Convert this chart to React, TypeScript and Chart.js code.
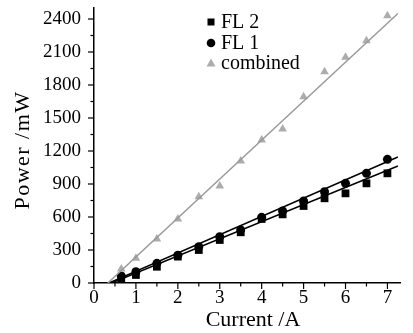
import React, { useEffect, useRef } from "react";
import { Chart, registerables } from "chart.js";

Chart.register(...registerables);

const currents = [0.65, 1, 1.5, 2, 2.5, 3, 3.5, 4, 4.5, 5, 5.5, 6, 6.5, 7];
const fl2Power = [43, 73, 148, 240, 300, 391, 461, 582, 624, 700, 770, 815, 906, 997];
const fl1Power = [64, 103, 179, 252, 330, 421, 482, 597, 655, 745, 830, 906, 997, 1124];
const combinedPower = [127, 224, 400, 582, 785, 882, 1109, 1300, 1400, 1694, 1921, 2052, 2203, 2430];

const fl2FitX = [0.42, 7.25];
const fl2FitY = [0, 1064];
const fl1FitX = [0.36, 7.25];
const fl1FitY = [0, 1145];
const combFitX = [0.33, 7.25];
const combFitY = [0, 2450];

const xTicks = [0, 1, 2, 3, 4, 5, 6, 7];
const yTicks = [0, 300, 600, 900, 1200, 1500, 1800, 2100, 2400];
const legendLabels = ["FL 2", "FL 1", "combined"];

const FONT = "'Liberation Serif', 'Times New Roman', serif";
const GRAY_PT = "#acacac";
const GRAY_LN = "#9a9a9a";

const pts = (xs: number[], ys: number[]) => xs.map((x, i) => ({ x, y: ys[i] }));

const decoPlugin = {
  id: "deco",
  afterDraw(chart: any) {
    const ctx = chart.ctx;
    const xs = chart.scales.x;
    const ys = chart.scales.y;
    const ca = chart.chartArea;
    ctx.save();
    ctx.strokeStyle = "#000";
    ctx.lineWidth = 1.2;
    for (let v = 0; v <= 7.0001; v += 0.5) {
      const px = xs.getPixelForValue(v);
      const major = Math.abs(v - Math.round(v)) < 1e-6;
      ctx.beginPath();
      ctx.moveTo(px, ca.bottom);
      ctx.lineTo(px, ca.bottom + (major ? 6 : 3.5));
      ctx.stroke();
    }
    for (let v = 0; v <= 2400.001; v += 150) {
      const py = ys.getPixelForValue(v);
      const major = Math.abs(v % 300) < 1e-6;
      ctx.beginPath();
      ctx.moveTo(ca.left, py);
      ctx.lineTo(ca.left - (major ? 6 : 3.5), py);
      ctx.stroke();
    }
    ctx.fillStyle = "#000";
    ctx.font = `22px ${FONT}`;
    ctx.textAlign = "center";
    ctx.textBaseline = "middle";
    ctx.fillText("Current /A", (ca.left + ca.right) / 2 + 6, 320);
    ctx.save();
    ctx.translate(23, 150);
    ctx.rotate(-Math.PI / 2);
    (ctx as any).letterSpacing = "1.5px";
    ctx.fillText("Power /mW", 0, 0);
    ctx.restore();
    const lx = 211;
    const rows = [22, 43, 63];
    ctx.textAlign = "left";
    ctx.font = `20px ${FONT}`;
    ctx.fillStyle = "#000";
    ctx.fillRect(lx - 3.5, rows[0] - 3.5, 7, 7);
    ctx.beginPath();
    ctx.arc(lx, rows[1], 4.3, 0, Math.PI * 2);
    ctx.fill();
    ctx.fillStyle = GRAY_PT;
    ctx.beginPath();
    ctx.moveTo(lx, rows[2] - 4.5);
    ctx.lineTo(lx + 4.5, rows[2] + 3.5);
    ctx.lineTo(lx - 4.5, rows[2] + 3.5);
    ctx.closePath();
    ctx.fill();
    ctx.fillStyle = "#000";
    legendLabels.forEach((t, i) => ctx.fillText(t, lx + 10, rows[i] + 1));
    ctx.restore();
  },
};

export default function App() {
  const ref = useRef<HTMLCanvasElement>(null);
  useEffect(() => {
    if (!ref.current) return;
    const chart = new Chart(ref.current, {
      type: "scatter",
      data: {
        datasets: [
          {
            type: "line",
            label: "combFit",
            data: pts(combFitX, combFitY),
            borderColor: GRAY_LN,
            borderWidth: 1.5,
            pointRadius: 0,
            showLine: true,
            fill: false,
          },
          {
            type: "line",
            label: "fl1Fit",
            data: pts(fl1FitX, fl1FitY),
            borderColor: "#000",
            borderWidth: 1.5,
            pointRadius: 0,
            showLine: true,
            fill: false,
          },
          {
            type: "line",
            label: "fl2Fit",
            data: pts(fl2FitX, fl2FitY),
            borderColor: "#000",
            borderWidth: 1.5,
            pointRadius: 0,
            showLine: true,
            fill: false,
          },
          {
            label: "combined",
            data: pts(currents, combinedPower),
            pointStyle: "triangle",
            pointRadius: 5,
            backgroundColor: GRAY_PT,
            borderColor: GRAY_PT,
            borderWidth: 0,
          },
          {
            label: "FL 1",
            data: pts(currents, fl1Power),
            pointStyle: "circle",
            pointRadius: 4.5,
            backgroundColor: "#000",
            borderColor: "#000",
            borderWidth: 0,
          },
          {
            label: "FL 2",
            data: pts(currents, fl2Power),
            pointStyle: "rect",
            pointRadius: 5.5,
            backgroundColor: "#000",
            borderColor: "#000",
            borderWidth: 0,
          },
        ],
      },
      options: {
        responsive: false,
        animation: false,
        layout: { padding: { top: 8, right: 13, left: 0, bottom: 0 } },
        plugins: { legend: { display: false }, tooltip: { enabled: false } },
        scales: {
          x: {
            type: "linear",
            min: 0,
            max: 7.3,
            afterBuildTicks: (s: any) => {
              s.ticks = xTicks.map((v) => ({ value: v }));
            },
            afterFit: (s: any) => {
              s.height = 50;
              s.paddingLeft = 0;
              s.paddingRight = 0;
            },
            grid: { display: false, drawTicks: false },
            border: { display: true, color: "#000", width: 1.5 },
            ticks: {
              color: "#000",
              font: { family: FONT, size: 19 },
              padding: 4,
              maxRotation: 0,
              autoSkip: false,
              callback: (v: any) => String(v),
            },
          },
          y: {
            type: "linear",
            min: 0,
            max: 2500,
            afterBuildTicks: (s: any) => {
              s.ticks = yTicks.map((v) => ({ value: v }));
            },
            afterFit: (s: any) => {
              s.width = 94;
              s.paddingTop = 0;
              s.paddingBottom = 0;
            },
            grid: { display: false, drawTicks: false },
            border: { display: true, color: "#000", width: 1.5 },
            ticks: {
              color: "#000",
              font: { family: FONT, size: 19 },
              padding: 13,
              autoSkip: false,
              callback: (v: any) => String(v),
            },
          },
        },
      },
      plugins: [decoPlugin],
    });
    return () => chart.destroy();
  }, []);
  return (
    <div style={{ position: "fixed", left: 0, top: 0, width: 413, height: 333, background: "#fff" }}>
      <canvas ref={ref} width={413} height={333} />
    </div>
  );
}
